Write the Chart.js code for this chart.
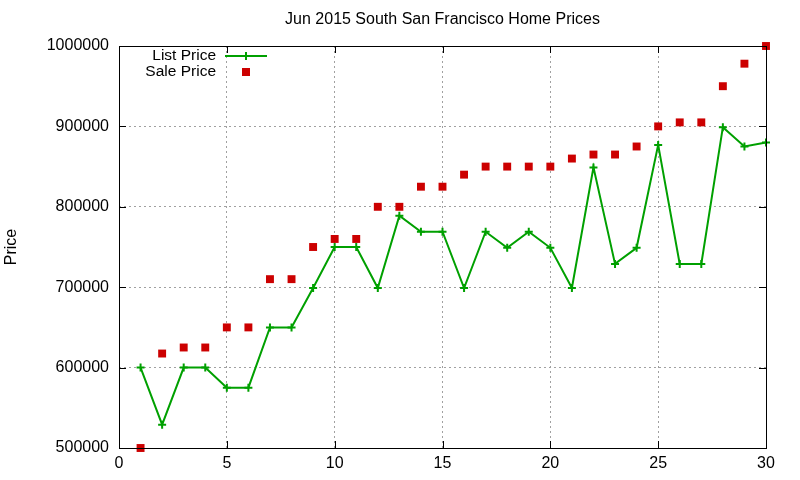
<!DOCTYPE html>
<html>
<head>
<meta charset="utf-8">
<script src="https://cdn.jsdelivr.net/npm/chart.js@4.4.1/dist/chart.umd.min.js"></script>
<style>
    html, body { margin: 0; padding: 0; background: #fff; }
    #chart { display: block; }
</style>
</head>
<body>
<canvas id="chart" width="800" height="480"></canvas>
<script>
// Data
const days = [1, 2, 3, 4, 5, 6, 7, 8, 9, 10, 11, 12, 13, 14, 15,
              16, 17, 18, 19, 20, 21, 22, 23, 24, 25, 26, 27, 28, 29, 30];
const listPrice = [600000, 529000, 600000, 600000, 575000, 575000, 650000, 650000, 699000, 750000,
                   750000, 699000, 789000, 769000, 769000, 699000, 769000, 749000, 769000, 749000,
                   699000, 849000, 729000, 749000, 877000, 729000, 729000, 899000, 875000, 880000];
const salePrice = [500000, 617500, 625000, 625000, 650000, 650000, 710000, 710000, 750000, 760000,
                   760000, 800000, 800000, 825000, 825000, 840000, 850000, 850000, 850000, 850000,
                   860000, 865000, 865000, 875000, 900000, 905000, 905000, 950000, 978000, 1000000];
const xTicks = [0, 5, 10, 15, 20, 25, 30];
const yTicks = [500000, 600000, 700000, 800000, 900000, 1000000];

const chartTitle = 'Jun 2015 South San Francisco Home Prices';
const yLabel = 'Price';
const fontFamily = '"Liberation Sans", Arial, sans-serif';
const green = '#00a000';
const red = '#cc0000';

// Frame, inward tick marks, title, axis label and legend in gnuplot style
const gnuplotDecor = {
    id: 'gnuplotDecor',
    afterDraw(chart) {
        const ctx = chart.ctx;
        const area = chart.chartArea;
        const xs = chart.scales.x;
        const ys = chart.scales.y;
        ctx.save();

        // border
        ctx.strokeStyle = '#000';
        ctx.lineWidth = 1;
        ctx.setLineDash([]);
        ctx.strokeRect(Math.round(area.left) + 0.5, Math.round(area.top) + 0.5,
            Math.round(area.right - area.left), Math.round(area.bottom - area.top));

        // inward ticks on all four sides
        ctx.beginPath();
        xTicks.forEach(v => {
            const px = Math.round(xs.getPixelForValue(v)) + 0.5;
            ctx.moveTo(px, area.bottom); ctx.lineTo(px, area.bottom - 7);
            ctx.moveTo(px, area.top); ctx.lineTo(px, area.top + 7);
        });
        yTicks.forEach(v => {
            const py = Math.round(ys.getPixelForValue(v)) + 0.5;
            ctx.moveTo(area.left, py); ctx.lineTo(area.left + 7, py);
            ctx.moveTo(area.right, py); ctx.lineTo(area.right - 7, py);
        });
        ctx.stroke();

        // title
        ctx.fillStyle = '#000';
        ctx.font = '16px ' + fontFamily;
        ctx.textAlign = 'center';
        ctx.textBaseline = 'middle';
        ctx.fillText(chartTitle, (area.left + area.right) / 2, 20);

        // y axis label
        ctx.save();
        ctx.translate(12, (area.top + area.bottom) / 2);
        ctx.rotate(-Math.PI / 2);
        ctx.font = '16px ' + fontFamily;
        ctx.fillText(yLabel, 0, 0);
        ctx.restore();

        // legend
        ctx.font = '15.5px ' + fontFamily;
        ctx.textAlign = 'right';
        ctx.fillText('List Price', 216, 56);
        ctx.fillText('Sale Price', 216, 72);

        ctx.strokeStyle = green;
        ctx.lineWidth = 2;
        ctx.beginPath();
        ctx.moveTo(225, 56); ctx.lineTo(267, 56);
        ctx.moveTo(246, 52); ctx.lineTo(246, 60);
        ctx.stroke();

        ctx.fillStyle = red;
        ctx.fillRect(242, 68, 8, 8);

        ctx.restore();
    }
};

const ctx = document.getElementById('chart');

new Chart(ctx, {
    type: 'line',
    data: {
        labels: days,
        datasets: [{
            label: 'List Price',
            data: days.map((d, i) => ({ x: d, y: listPrice[i] })),
            borderColor: green,
            backgroundColor: green,
            borderWidth: 2,
            pointStyle: 'cross',
            pointRadius: 4,
            pointBorderWidth: 2,
            pointHoverRadius: 4,
            tension: 0,
            fill: false,
            order: 2
        }, {
            label: 'Sale Price',
            data: days.map((d, i) => ({ x: d, y: salePrice[i] })),
            showLine: false,
            borderColor: red,
            backgroundColor: red,
            pointStyle: 'rect',
            pointRadius: 5.6,
            pointBorderWidth: 0,
            pointHoverRadius: 5.6,
            order: 1
        }]
    },
    options: {
        responsive: false,
        animation: false,
        clip: false,
        layout: {
            padding: { top: 46, right: 34, left: 0, bottom: 0 }
        },
        plugins: {
            legend: { display: false },
            title: { display: false },
            tooltip: { enabled: false }
        },
        scales: {
            x: {
                type: 'linear',
                min: 0,
                max: 30,
                afterBuildTicks: scale => { scale.ticks = xTicks.map(v => ({ value: v })); },
                afterFit: scale => { scale.height = 32; },
                border: { display: false, dash: [2, 3] },
                grid: {
                    color: '#a0a0a0',
                    lineWidth: 1,
                    drawTicks: false
                },
                ticks: {
                    color: '#000',
                    padding: 6,
                    font: { family: fontFamily, size: 16 }
                }
            },
            y: {
                min: 500000,
                max: 1000000,
                afterBuildTicks: scale => { scale.ticks = yTicks.map(v => ({ value: v })); },
                afterFit: scale => { scale.width = 119; },
                border: { display: false, dash: [2, 3] },
                grid: {
                    color: '#a0a0a0',
                    lineWidth: 1,
                    drawTicks: false
                },
                ticks: {
                    color: '#000',
                    padding: 10,
                    font: { family: fontFamily, size: 16 },
                    callback: v => String(v)
                }
            }
        }
    },
    plugins: [gnuplotDecor]
});
</script>
</body>
</html>
